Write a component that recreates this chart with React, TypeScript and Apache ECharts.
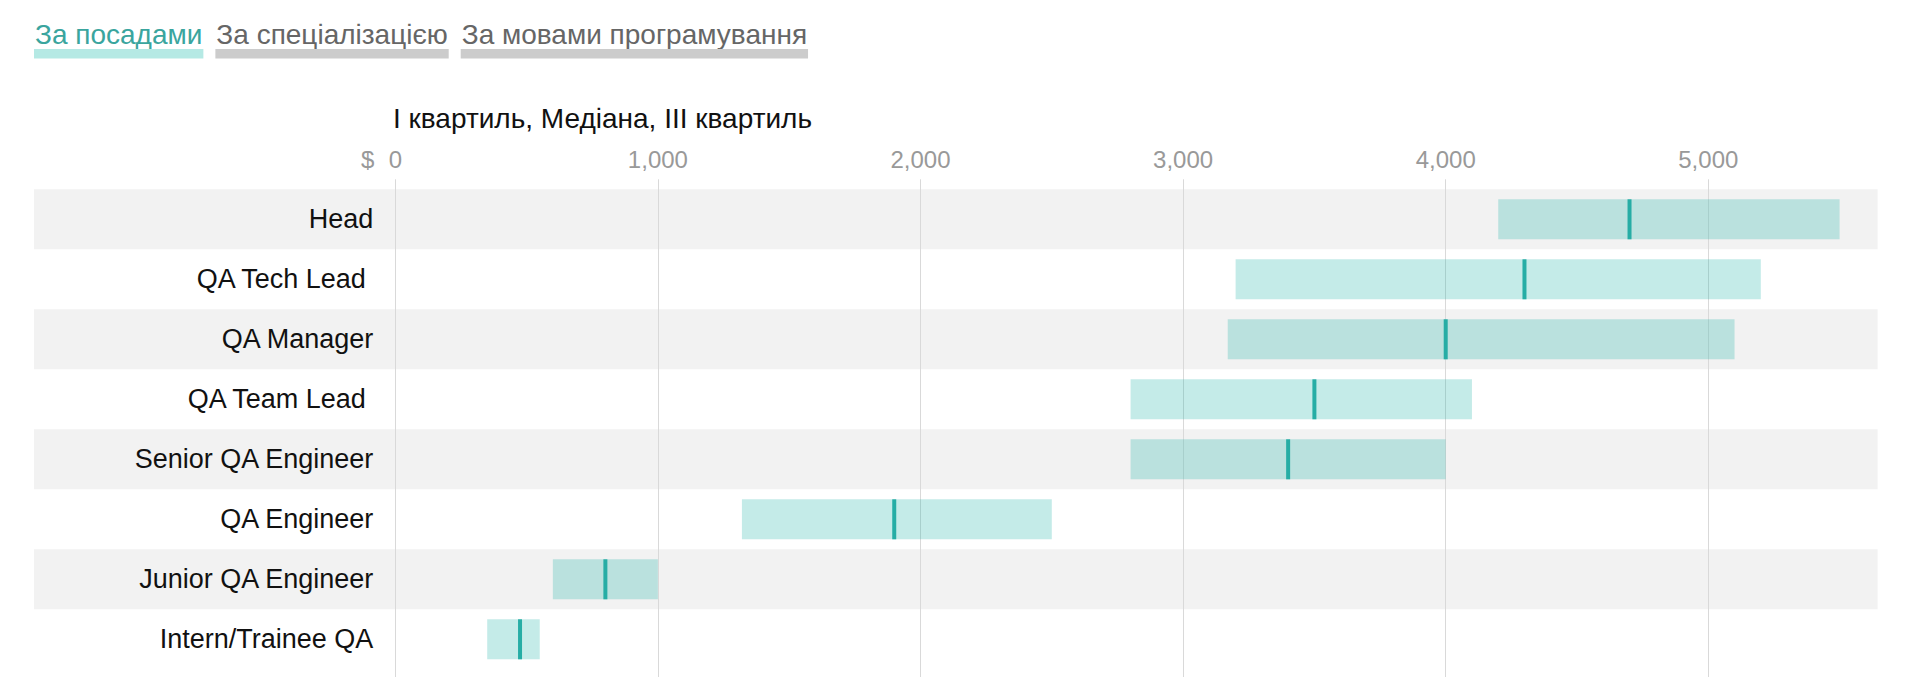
import React, { useEffect, useRef } from 'react';
import * as echarts from 'echarts';

const categories = [
  'Head',
  'QA Tech Lead ',
  'QA Manager',
  'QA Team Lead ',
  'Senior QA Engineer',
  'QA Engineer',
  'Junior QA Engineer',
  'Intern/Trainee QA',
];
const firstQuartile = [4200, 3200, 3170, 2800, 2800, 1320, 600, 350];
const medianValues = [4700, 4300, 4000, 3500, 3400, 1900, 800, 475];
const thirdQuartile = [5500, 5200, 5100, 4100, 4000, 2500, 1000, 550];
const tabLabels = ['За посадами', 'За спеціалізацією', 'За мовами програмування'];
const chartTitle = 'I квартиль, Медіана, III квартиль';
const currencyLabel = '$';
const axisMin = 0;
const axisMax = 5500;
const axisInterval = 1000;

const FONT = '"Liberation Sans", Arial, sans-serif';
const TEAL = '#26ada5';
const BAR_FILL = 'rgba(42,183,172,0.28)';
const TAB_SIZE = 28;

function measure(text: string, size: number): number {
  const c = document.createElement('canvas');
  const ctx = c.getContext('2d');
  if (!ctx) return text.length * size * 0.55;
  ctx.font = `${size}px "Liberation Sans", Arial, sans-serif`;
  return ctx.measureText(text).width;
}

export default function App() {
  const ref = useRef<HTMLDivElement>(null);

  useEffect(() => {
    if (!ref.current) return;
    const chart = echarts.init(ref.current, undefined, { renderer: 'svg' });

    // tabs
    const tabElements: any[] = [];
    let x = 34;
    tabLabels.forEach((t, i) => {
      const w = measure(t, TAB_SIZE);
      const active = i === 0;
      tabElements.push({
        type: 'text',
        x: x + 1,
        y: 34,
        style: {
          text: t,
          fill: active ? '#3aa59e' : '#666666',
          font: `${TAB_SIZE}px ${FONT}`,
          verticalAlign: 'middle',
          align: 'left',
        },
      });
      tabElements.push({
        type: 'rect',
        shape: { x, y: 49, width: w + 2, height: 9.5 },
        style: { fill: active ? '#b5e9e4' : '#cccccc' },
      });
      x += w + 2 + 12;
    });

    const rows = categories.map((_, i) => [i]);
    const boxes = categories.map((_, i) => [i, firstQuartile[i], medianValues[i], thirdQuartile[i]]);

    const option: any = {
      animation: false,
      title: {
        text: chartTitle,
        left: 393,
        top: 104,
        padding: 0,
        textStyle: { fontFamily: FONT, fontSize: 28, fontWeight: 'normal', color: '#111' },
      },
      graphic: tabElements,
      grid: [
        { left: 395.3, right: 80.4, top: 189.3, bottom: 29.7 },
        { left: 395.3, right: 80.4, top: 179.3, bottom: 22 },
      ],
      xAxis: [
        {
          type: 'value',
          gridIndex: 0,
          min: axisMin,
          max: axisMax,
          interval: axisInterval,
          show: false,
        },
        {
          type: 'value',
          gridIndex: 1,
          position: 'top',
          min: axisMin,
          max: axisMax,
          interval: axisInterval,
          name: currencyLabel,
          nameLocation: 'start',
          nameGap: 21,
          nameTextStyle: {
            color: '#999',
            fontFamily: FONT,
            fontSize: 24,
            verticalAlign: 'bottom',
            padding: [0, 0, 8, 0],
          },
          axisLine: { show: false, onZero: false },
          axisTick: { show: false },
          axisLabel: {
            color: '#999',
            fontFamily: FONT,
            fontSize: 24,
            margin: 8,
            showMaxLabel: false,
            formatter: (v: number) => (v === axisMax && v % axisInterval !== 0 ? '' : v.toLocaleString('en-US')),
          },
          splitLine: { show: true, showMaxLine: false, lineStyle: { color: '#d9d9d9', width: 1 } },
        },
      ],
      yAxis: [
        {
          type: 'category',
          gridIndex: 0,
          data: categories,
          inverse: true,
          axisLine: { show: false },
          axisTick: { show: false },
          splitLine: { show: false },
          axisLabel: {
            color: '#111',
            fontFamily: FONT,
            fontSize: 27,
            margin: 22,
          },
        },
        { type: 'value', gridIndex: 1, show: false, min: 0, max: 1 },
      ],
      series: [
        {
          type: 'custom',
          name: 'bands',
          xAxisIndex: 0,
          yAxisIndex: 0,
          z: -1,
          clip: false,
          silent: true,
          data: rows,
          encode: { y: 0 },
          renderItem: (params: any, api: any) => {
            const idx = api.value(0);
            if (idx % 2 === 1) return { type: 'group', children: [] };
            const c = api.coord([axisMin, idx]);
            const h = api.size([0, 1])[1];
            const cs = params.coordSys;
            const left = 34;
            const right = cs.x + cs.width + 38;
            return {
              type: 'rect',
              shape: { x: left, y: c[1] - h / 2, width: right - left, height: h },
              style: { fill: '#f2f2f2' },
            };
          },
        },
        {
          type: 'custom',
          name: 'quartiles',
          xAxisIndex: 0,
          yAxisIndex: 0,
          z: 3,
          data: boxes,
          encode: { y: 0, x: [1, 2, 3] },
          renderItem: (params: any, api: any) => {
            const idx = api.value(0);
            const a = api.coord([api.value(1), idx]);
            const m = api.coord([api.value(2), idx]);
            const b = api.coord([api.value(3), idx]);
            const h = api.size([0, 1])[1] * 0.667;
            return {
              type: 'group',
              children: [
                {
                  type: 'rect',
                  shape: { x: a[0], y: a[1] - h / 2, width: b[0] - a[0], height: h },
                  style: { fill: BAR_FILL },
                },
                {
                  type: 'rect',
                  shape: { x: m[0] - 2, y: m[1] - h / 2, width: 4, height: h },
                  style: { fill: TEAL },
                },
              ],
            };
          },
        },
      ],
    };

    chart.setOption(option);
    return () => chart.dispose();
  }, []);

  return (
    <div
      ref={ref}
      style={{ position: 'absolute', left: 0, top: 0, width: 1920, height: 699 }}
    />
  );
}
